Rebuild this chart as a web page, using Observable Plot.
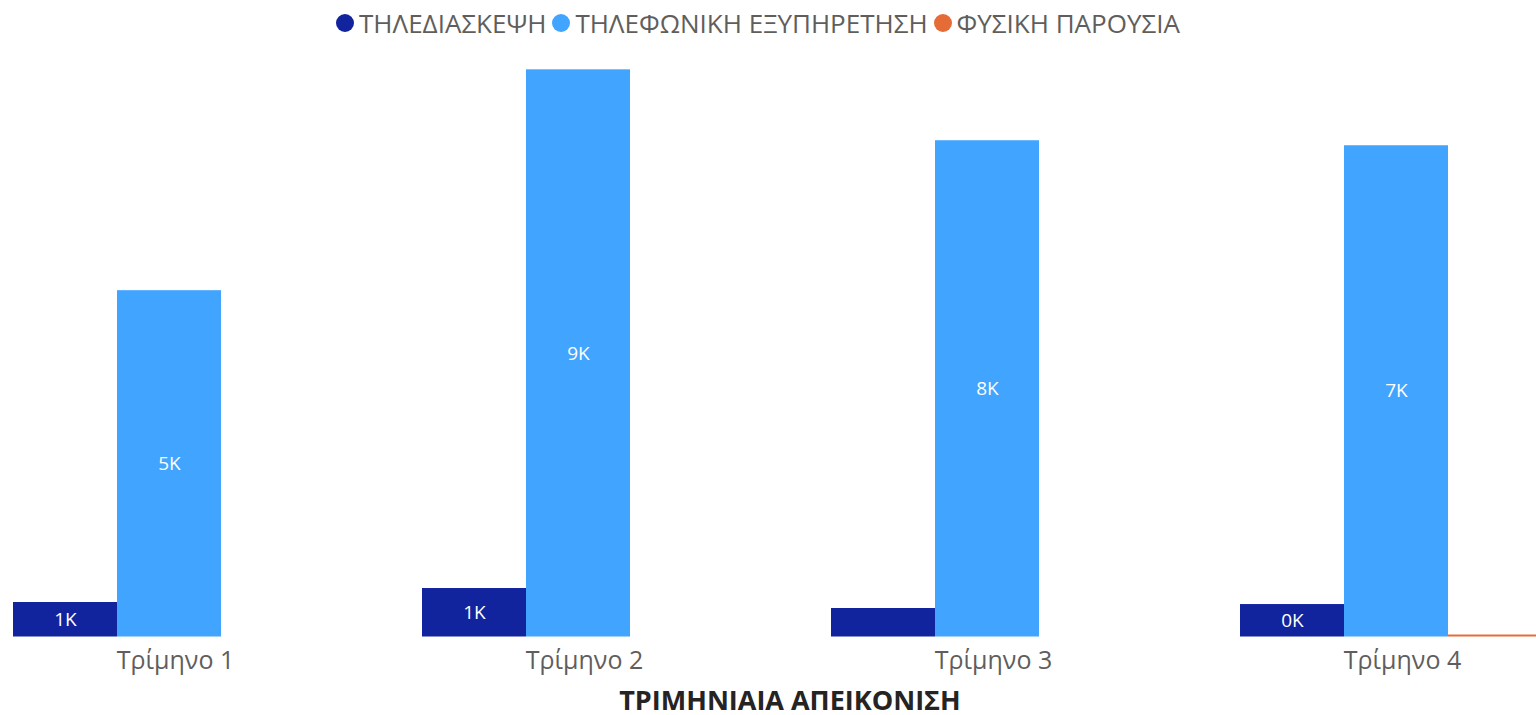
<!DOCTYPE html>
<html>
<head>
<meta charset="utf-8">
<script src="https://cdn.jsdelivr.net/npm/d3@7"></script>
<script src="https://cdn.jsdelivr.net/npm/@observablehq/plot@0.6"></script>
<style>
  html, body { margin: 0; padding: 0; background: #fff; overflow: hidden; width: 1536px; height: 715px; }
  #legend { height: 45px; display: flex; align-items: center; position: relative;
            font-family: "Segoe UI", "Open Sans", sans-serif; font-size: 26px; color: #605E5C; }
  .item { display: flex; align-items: center; margin-right: 6px; }
  .dot { width: 18px; height: 18px; border-radius: 50%; margin-right: 5px; }
  #chart svg { display: block; overflow: hidden; }
  #title { text-align: center; font-family: "Segoe UI", "Open Sans", sans-serif; font-weight: bold;
           font-size: 27px; color: #252423; height: 30px; line-height: 30px; padding-left: 44px; }
</style>
</head>
<body>
<div id="legend"></div>
<div id="chart"></div>
<div id="title">ΤΡΙΜΗΝΙΑΙΑ ΑΠΕΙΚΟΝΙΣΗ</div>
<script>
const quarters = ["Τρίμηνο 1", "Τρίμηνο 2", "Τρίμηνο 3", "Τρίμηνο 4"];
const series = ["ΤΗΛΕΔΙΑΣΚΕΨΗ", "ΤΗΛΕΦΩΝΙΚΗ ΕΞΥΠΗΡΕΤΗΣΗ", "ΦΥΣΙΚΗ ΠΑΡΟΥΣΙΑ"];
const colors = ["#12239E", "#41A4FF", "#E66C37"];
const teleconference = [523, 735, 432, 492];
const phone = [5250, 8598, 7523, 7447];
const physical = [0, 0, 0, 30];

const valuesBySeries = [teleconference, phone, physical];
const rows = [];
quarters.forEach((q, i) => {
  series.forEach((s, j) => rows.push({quarter: q, series: s, value: valuesBySeries[j][i]}));
});

// legend
const legend = document.getElementById("legend");
legend.style.paddingLeft = "336px";
series.forEach((s, j) => {
  const item = document.createElement("div");
  item.className = "item";
  const dot = document.createElement("div");
  dot.className = "dot";
  dot.style.background = colors[j];
  const label = document.createElement("span");
  label.textContent = s;
  item.appendChild(dot);
  item.appendChild(label);
  legend.appendChild(item);
});

const fmt = v => Math.round(v / 1000) + "K";

const plot = Plot.plot({
  width: 1536,
  height: 640,
  marginTop: 11,
  marginBottom: 48.5,
  marginLeft: 12,
  marginRight: 0,
  style: {fontFamily: "'Segoe UI', 'Open Sans', sans-serif", fontSize: "25px", color: "#605E5C", background: "transparent"},
  fx: {domain: quarters, range: [12, 1554], paddingInner: 0.232, paddingOuter: 0, label: null, axis: null},
  x: {domain: series, padding: 0, axis: null},
  y: {domain: [0, 8800], axis: null},
  color: {domain: series, range: colors},
  marks: [
    Plot.axisFx({anchor: "bottom", tickSize: 0, tickPadding: 14, dx: 6, label: null, fontSize: 25}),
    Plot.barY(rows, {fx: "quarter", x: "series", y: "value", fill: "series"}),
    Plot.text(rows, {
      filter: d => d.value >= 450,
      fx: "quarter", x: "series", y: d => d.value / 2,
      text: d => fmt(d.value), fill: "white", fontSize: 19
    })
  ]
});
document.getElementById("chart").appendChild(plot);
</script>
</body>
</html>
